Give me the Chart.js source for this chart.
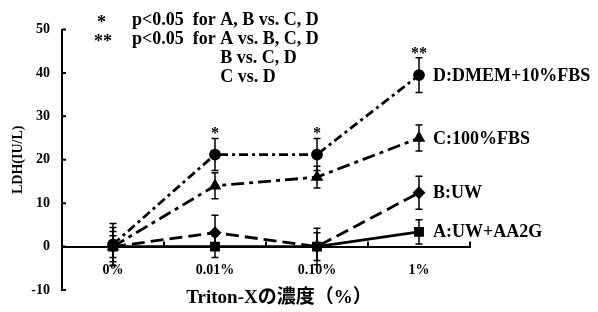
<!DOCTYPE html>
<html>
<head>
<meta charset="utf-8">
<script src="https://cdn.jsdelivr.net/npm/chart.js@4"></script>
<style>
  html, body { margin: 0; padding: 0; background: #fff; }
  #wrap { width: 598px; height: 312px; }
</style>
</head>
<body>
<div id="wrap"><canvas id="ldhChart" width="598" height="312"></canvas></div>
<script>
// categories (Triton-X concentration)
const categories = ["0%", "0.01%", "0.10%", "1%"];

// LDH (IU/L) means per group
const seriesA = [0, 0, 0, 3.4];
const seriesB = [0, 3.2, 0, 12.4];
const seriesC = [0, 14, 16, 25];
const seriesD = [0.5, 21.2, 21.2, 39.5];

// error bar half-lengths
const errA = [2.5, 2.5, 3.2, 2.8];
const errB = [3.5, 4, 4.2, 3.8];
const errC = [4.4, 3, 2.5, 3];
const errD = [4.8, 3.7, 3.7, 4];

const yTicks = [-10, 0, 10, 20, 30, 40, 50];
const groupNames = ["A:UW+AA2G", "B:UW", "C:100%FBS", "D:DMEM+10%FBS"];
const starMarks = ["", "*", "*", "**"];
const noteKeys = ["*", "**", "", ""];
const noteTexts = ["p<0.05  for A, B vs. C, D", "p<0.05  for A vs. B, C, D", "B vs. C, D", "C vs. D"];

const serif = "'Liberation Serif', 'Times New Roman', serif";
const errs = [errA, errB, errC, errD];

const extrasPlugin = {
    id: "extras",
    beforeDatasetsDraw(chart) {
        const ctx = chart.ctx;
        const x = chart.scales.x, y = chart.scales.y;
        ctx.save();
        ctx.strokeStyle = "#000";
        ctx.lineWidth = 1.5;
        chart.data.datasets.forEach((ds, di) => {
            ds.data.forEach((v, i) => {
                const px = x.getPixelForValue(i);
                const top = y.getPixelForValue(v + errs[di][i]);
                const bot = y.getPixelForValue(v - errs[di][i]);
                ctx.beginPath();
                ctx.moveTo(px, top); ctx.lineTo(px, bot);
                ctx.moveTo(px - 3.5, top); ctx.lineTo(px + 3.5, top);
                ctx.moveTo(px - 3.5, bot); ctx.lineTo(px + 3.5, bot);
                ctx.stroke();
            });
        });
        ctx.restore();
    },
    afterDraw(chart) {
        const ctx = chart.ctx;
        const x = chart.scales.x, y = chart.scales.y;
        const area = chart.chartArea;
        ctx.save();
        ctx.strokeStyle = "#000";
        ctx.fillStyle = "#000";
        ctx.lineWidth = 2;

        // inward tick marks
        ctx.beginPath();
        yTicks.forEach(t => {
            const py = y.getPixelForValue(t);
            ctx.moveTo(area.left, py); ctx.lineTo(area.left + 4, py);
        });
        const zero = y.getPixelForValue(0);
        for (let i = 0; i <= categories.length; i++) {
            const px = x.getPixelForValue(i - 0.5);
            ctx.moveTo(px, zero); ctx.lineTo(px, zero - 5);
        }
        ctx.stroke();

        // significance stars above group D
        ctx.font = "bold 16px " + serif;
        ctx.textAlign = "center";
        ctx.textBaseline = "alphabetic";
        starMarks.forEach((s, i) => {
            if (!s) return;
            const px = x.getPixelForValue(i);
            const py = y.getPixelForValue(seriesD[i] + errD[i]);
            ctx.fillText(s, px, py);
        });

        // group labels at the right end
        ctx.font = "bold 18px " + serif;
        ctx.textAlign = "left";
        ctx.textBaseline = "middle";
        const last = categories.length - 1;
        chart.data.datasets.forEach((ds, di) => {
            const px = x.getPixelForValue(last);
            const py = y.getPixelForValue(ds.data[last]);
            ctx.fillText(groupNames[di], px + 14, py + 1);
        });

        // notes block
        ctx.font = "bold 18px " + serif;
        const indent = 132 + ctx.measureText("p<0.05  for ").width;
        noteTexts.forEach((t, i) => {
            const py = 20 + i * 19;
            if (noteKeys[i]) {
                ctx.fillText(noteKeys[i], noteKeys[i].length > 1 ? 94 : 97, py + 3);
            }
            ctx.fillText(t, i < 2 ? 132 : indent, py);
        });

        // x axis title
        ctx.font = "bold 19px " + serif + ", 'Noto Sans CJK JP'";
        ctx.textAlign = "center";
        ctx.fillText("Triton-Xの濃度（%）", (area.left + area.right) / 2 + 13, 298);
        ctx.restore();
    }
};

const ctx = document.getElementById("ldhChart").getContext("2d");
new Chart(ctx, {
    type: "line",
    data: {
        labels: categories,
        datasets: [
            { label: "A", data: seriesA, pointStyle: "rect", pointRadius: 5, borderDash: [] },
            { label: "B", data: seriesB, pointStyle: "rectRot", pointRadius: 4.5, borderDash: [13, 6] },
            { label: "C", data: seriesC, pointStyle: "triangle", pointRadius: 4.5, borderDash: [13, 5, 4, 5] },
            { label: "D", data: seriesD, pointStyle: "circle", pointRadius: 4.5, borderDash: [9, 4, 3, 4] }
        ].map(d => Object.assign(d, {
            borderColor: "#000",
            backgroundColor: "#000",
            pointBackgroundColor: "#000",
            pointBorderColor: "#000",
            borderWidth: 2.8,
            tension: 0,
            fill: false
        }))
    },
    options: {
        responsive: false,
        animation: false,
        layout: { padding: { top: 29.5, right: 128, bottom: 22, left: 0 } },
        plugins: {
            legend: { display: false },
            tooltip: { enabled: false },
            title: { display: false }
        },
        scales: {
            x: {
                type: "category",
                offset: true,
                position: { y: 0 },
                grid: { drawOnChartArea: false, drawTicks: false, offset: true },
                border: { display: true, width: 2, color: "#000" },
                ticks: {
                    color: "#000",
                    padding: 15,
                    maxRotation: 0,
                    autoSkip: false,
                    font: { family: serif, weight: "bold", size: 14 }
                }
            },
            y: {
                min: -10,
                max: 50,
                afterBuildTicks: axis => { axis.ticks = yTicks.map(v => ({ value: v })); },
                afterFit: scale => { scale.width = 62; },
                grid: { drawOnChartArea: false, drawTicks: false },
                border: { display: true, width: 2, color: "#000" },
                ticks: {
                    color: "#000",
                    padding: 12,
                    font: { family: serif, weight: "bold", size: 14 }
                },
                title: {
                    display: true,
                    text: "LDH(IU/L)",
                    color: "#000",
                    padding: { top: 10, bottom: 0 },
                    font: { family: serif, weight: "bold", size: 14 }
                }
            }
        }
    },
    plugins: [extrasPlugin]
});
</script>
</body>
</html>
